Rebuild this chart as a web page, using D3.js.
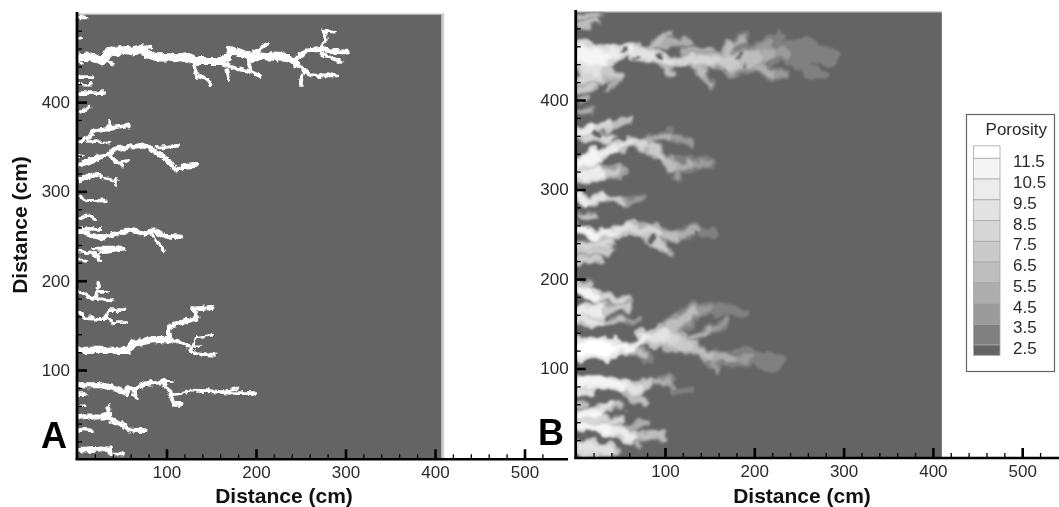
<!DOCTYPE html>
<html><head><meta charset="utf-8">
<script src="https://cdn.jsdelivr.net/npm/d3@7/dist/d3.min.js"></script>
<style>html,body{margin:0;background:#fff}svg{display:block;font-family:"Liberation Sans",Arial,sans-serif;filter:blur(0.45px)}</style>
</head><body>
<script>
// ---- axes
const majorTicks=[100,200,300,400,500];
const minorTicks=d3.range(20,540,20).filter(d=>d%100);
const yMajorTicks=[100,200,300,400];
const yMinorTicks=d3.range(20,500,20).filter(d=>d%100);
const fieldExtent=[410,498.5];
const xTitle="Distance (cm)", yTitle="Distance (cm)";
// ---- colour bar
const porosityLabels=[11.5,10.5,9.5,8.5,7.5,6.5,5.5,4.5,3.5,2.5];
const legendCells=[[11.5,12.1,"#ffffff"],[10.5,11.5,"#f5f5f5"],[9.5,10.5,"#ececec"],[8.5,9.5,"#e2e2e2"],[7.5,8.5,"#d6d6d6"],[6.5,7.5,"#cacaca"],[5.5,6.5,"#bdbdbd"],[4.5,5.5,"#adadad"],[3.5,4.5,"#9a9a9a"],[2.5,3.5,"#808080"],[2,2.5,"#646464"]];
// ---- panel A: white channels, [width cm, [x,y]...]
const channelsA=[
[7,[[1,450],[10,451],[19,449],[28,446],[33,452],[35,457],[44,456],[52,459],[62,457],[75,460],[78,454],[90,450],[104,450],[112,449],[123,450],[138,446],[160,446],[168,449],[172,459],[180,456],[190,452],[198,449],[204,452],[220,451],[238,449],[244,444]]],
[3,[[34,446],[40,442]]],[3,[[75,460],[82,462]]],
[3,[[130,444],[134,429],[147,425],[149,420]]],
[3,[[160,444],[179,437],[192,435],[205,429]]],
[3,[[168,436],[170,425]]],
[3,[[192,446],[194,433]]],
[3,[[198,456],[205,460],[213,465]]],
[3,[[244,444],[252,437],[261,430],[291,430]]],
[3,[[252,431],[250,421]]],
[4,[[244,447],[255,457],[272,459],[286,457],[302,456]]],
[3,[[272,459],[278,470],[276,480],[287,479]]],
[3,[[272,454],[296,445]]],
[3,[[1,496],[10,496]]],[2,[[2,470],[6,471]]],[2,[[2,445],[6,443]]],
[3,[[3,428],[18,428]]],[2,[[3,420],[15,420]]],[3,[[3,410],[30,410]]],
[3,[[3,388],[14,395]]],
[3,[[2,356],[13,360],[17,367],[37,371],[58,374]]],[3,[[36,370],[36,378]]],[2,[[13,356],[36,355]]],
[5,[[2,330],[19,336]]],
[4,[[19,336],[34,341],[43,348],[63,350],[75,352],[90,343],[104,332],[110,324],[120,328],[132,329]]],
[3,[[90,349],[112,351]]],[3,[[37,340],[45,332],[56,334]]],[2,[[45,334],[52,328]]],[2,[[2,340],[6,340]]],
[4,[[3,313],[22,319]]],[2,[[22,319],[30,315],[45,312]]],[2,[[43,315],[43,307]]],
[3,[[3,293],[13,289],[30,290]]],[3,[[4,270],[12,273],[20,269]]],
[4,[[2,255],[26,248],[41,252],[60,257],[75,252],[86,257],[97,250],[116,249]]],
[3,[[84,253],[90,243],[97,234]]],[3,[[6,258],[26,258]]],
[3,[[19,236],[52,236]]],[3,[[2,233],[23,229],[25,223]]],[2,[[25,232],[50,235]]],[2,[[2,223],[11,223]]],
[3,[[2,188],[17,180],[39,178]]],[3,[[21,180],[24,197]]],[2,[[23,188],[34,188]]],
[3,[[2,165],[10,158],[30,157],[37,167],[52,167]]],[2,[[34,158],[41,153],[56,153]]],
[6,[[1,122],[26,122],[58,122],[63,130],[86,134],[104,134]]],
[4,[[101,134],[104,150],[123,155],[134,158],[129,168],[151,170]]],
[3,[[108,134],[123,128],[131,119],[153,117]]],[2,[[129,126],[134,137],[151,139]]],[2,[[132,126],[138,126]]],
[5,[[1,83],[26,83],[45,79],[56,74]]],[4,[[56,79],[63,79],[78,85],[97,87]]],
[3,[[97,87],[104,74],[108,62],[117,62]]],[3,[[63,76],[67,68]]],[3,[[106,72],[127,77],[153,76],[175,74],[199,74]]],[2,[[168,77],[181,80]]],[2,[[97,87],[108,87]]],
[3,[[2,73],[10,73]]],[2,[[2,60],[8,60]]],
[5,[[1,48],[30,48],[37,51]]],[3,[[35,50],[35,61]]],[4,[[34,46],[49,40],[58,33],[76,32]]],[3,[[2,34],[18,32]]],
[4,[[2,10],[36,12],[37,6]]],[2,[[37,6],[52,6]]]
];
// ---- panel B: plumes, points are [x,y,width cm,porosity]
const plumesB=[
[[1,450,24,11.5],[24,447,12,11],[38,452,8,10],[61,456,8,9],[79,450,9,9],[106,443,8,8.5],[128,445,8,8],[158,443,9,7.5],[176,441,16,6.5],[203,448,16,5],[218,452,12,4],[236,452,9,3.5],[262,455,18,3],[283,448,5,3]],
[[165,440,8,7],[173,462,7,5],[188,467,5,4]],[[203,458,8,4],[218,463,8,3.5],[229,473,5,3]],
[[240,448,6,3],[255,437,7,3],[266,430,6,3],[277,428,4,3]],[[203,438,7,5],[218,430,6,4],[236,428,4,3.5]],
[[135,440,7,6.5],[143,428,6,5.5],[152,417,3,4]],[[98,440,6,6.5],[109,430,4,5]],
[[79,456,6,7],[98,470,5,5],[106,472,4,4]],[[91,462,5,6],[128,466,5,4]],[[120,455,5,6],[152,456,4,4]],
[[3,437,10,10],[24,431,7,8],[50,428,3,5]],[[8,425,9,9],[27,426,7,7],[50,426,4,5],[36,413,3,4]],[[3,412,5,7],[20,414,6,6]],
[[3,493,5,7],[27,495,3,4]],[[3,484,5,7],[24,488,3,5]],[[3,400,4,6],[14,402,2,4]],[[3,387,5,6],[18,389,3,4]],
[[1,329,10,11],[24,337,8,11],[42,346,6,9.5],[61,352,5,8],[79,350,7,7],[98,337,6,6],[109,327,8,5],[128,327,9,4],[152,329,3,3]],
[[79,355,7,5],[106,361,6,4],[128,352,3,3]],[[113,326,6,4],[115,311,3,3.5]],
[[1,363,8,10],[20,368,5,9],[38,372,5,7],[59,376,2,4]],[[12,356,7,9],[38,358,6,6]],
[[1,314,10,11],[24,318,8,8],[48,320,8,5]],
[[1,293,5,10],[12,285,4,9],[31,293,5,8],[53,286,4,5],[74,290,5,3.5]],
[[1,256,6,11],[24,249,5,10.5],[42,251,6,9.5],[61,257,8,8],[91,253,8,7],[113,247,7,5.5],[132,255,8,3.8],[152,251,3,3]],
[[79,251,7,7],[98,236,6,6],[106,228,3,4]],[[1,236,7,9],[38,240,5,6]],[[1,221,6,8],[27,223,5,6]],[[1,231,6,8],[38,232,4,5]],[[3,270,5,7],[20,272,2,4]],
[[3,188,7,11],[24,180,6,10],[53,177,5,5]],[[1,196,4,8],[14,195,3,5]],
[[1,163,10,11],[27,165,7,9],[57,169,4,4]],[[1,153,7,10.5],[27,152,5,7],[50,154,5,4.5],[68,154,2,3]],
[[1,122,16,11.5],[38,122,9,11.5],[61,124,6,10],[79,134,6,9],[102,137,16,8],[109,132,16,7.5],[128,124,8,6.5],[150,113,8,5.5],[176,111,6,4],[195,113,14,3],[225,106,3,3]],
[[106,147,12,7],[132,162,10,4.5],[147,167,5,3.5],[188,162,7,3]],[[128,134,5,5],[150,143,5,4],[169,152,4,3]],
[[61,122,7,7],[79,113,7,4.5]],[[150,111,6,4.5],[158,100,4,3.5]],
[[1,85,8,11.5],[31,85,7,11],[53,80,6,10],[72,76,7,8],[83,85,6,6],[106,87,6,4.5],[109,76,4,3.5],[126,74,3,3]],
[[53,76,6,8],[76,61,5,4.5]],[[1,75,6,10],[18,75,4,8]],[[1,60,4,6],[10,60,3,5]],
[[1,48,7,11],[24,50,7,10],[38,59,6,7],[53,57,3,4]],[[1,42,5,9],[50,42,5,6]],
[[3,37,5,11.5],[38,31,6,11],[65,24,9,8],[96,24,3,4]],[[61,35,6,6],[79,39,3,4]],[[65,22,5,6],[72,13,3,4]],
[[1,15,8,10],[38,9,8,8],[44,6,4,5]],[[1,8,5,9],[30,4,4,6]]
];
// holes inside the plumes [x,y,radius cm]
const holesB=[[55,456,2.5],[68,450,2],[94,448,3],[81,350,1.5],[182,448,2.5],[188,439,2.5],[171,433,2],[14,255,1],[132,251,2.5],[85,245,3],[25,361,5],[24,347,5]];

const W=1059,H=507;
const svg=d3.select("body").append("svg").attr("width",W).attr("height",H);
const defs=svg.append("defs");
const rough=(id,freq,scale,blur)=>{const f=defs.append("filter").attr("id",id).attr("x","-5%").attr("y","-5%").attr("width","110%").attr("height","110%");
 f.append("feTurbulence").attr("type","fractalNoise").attr("baseFrequency",freq).attr("numOctaves",2).attr("seed",4).attr("result","n");
 f.append("feDisplacementMap").attr("in","SourceGraphic").attr("in2","n").attr("scale",scale).attr("xChannelSelector","R").attr("yChannelSelector","G").attr("result","d");
 f.append("feGaussianBlur").attr("in","d").attr("stdDeviation",blur);};
rough("roughA",0.18,6,0.4);
rough("roughB",0.08,13,1.0);

const pcol=d3.scaleThreshold().domain(legendCells.slice().reverse().map(c=>c[1]).slice(0,-1)).range(legendCells.slice().reverse().map(c=>c[2]));

function panel(o){
 const x=d3.scaleLinear().domain([0,100]).range([o.x0,o.x0+o.kx*100]);
 const y=d3.scaleLinear().domain([0,100]).range([o.y0,o.y0-o.ky*100]);
 const g=svg.append("g");
 const id="clip"+o.name;
 defs.append("clipPath").attr("id",id).append("rect").attr("x",x(0)).attr("y",y(fieldExtent[1])).attr("width",x(fieldExtent[0])-x(0)).attr("height",y(0)-y(fieldExtent[1]));
 g.append("rect").attr("x",x(0)).attr("y",y(fieldExtent[1])).attr("width",x(fieldExtent[0])-x(0)).attr("height",y(0)-y(fieldExtent[1])).attr("fill","#646464");
 g.append("line").attr("x1",x(0)).attr("x2",x(fieldExtent[0])).attr("y1",y(fieldExtent[1])).attr("y2",y(fieldExtent[1])).attr("stroke","#c4c4c4").attr("stroke-width",1.2);
 if(o.edge) g.append("line").attr("x1",x(fieldExtent[0])-1.2).attr("x2",x(fieldExtent[0])-1.2).attr("y1",y(fieldExtent[1])).attr("y2",y(0)).attr("stroke","#cfcfcf").attr("stroke-width",3);
 const marks=g.append("g").attr("clip-path",`url(#${id})`).append("g").attr("filter",`url(#${o.filter})`);
 o.draw(marks,x,y);
 // axes
 const ax=g.append("g").attr("transform",`translate(0,${y(0)})`);
 const minorX=d3.axisBottom(x).tickValues(minorTicks.filter(d=>d<=o.xMax)).tickSize(-5).tickFormat("");
 const majorX=d3.axisBottom(x).tickValues(majorTicks).tickSize(-10).tickPadding(7).tickFormat(d3.format("d"));
 ax.append("g").attr("class","mn").call(minorX); ax.append("g").attr("class","mj").call(majorX);
 const ay=g.append("g").attr("transform",`translate(${x(0)},0)`);
 const minorY=d3.axisLeft(y).tickValues(yMinorTicks).tickSize(-5).tickFormat("");
 const majorY=d3.axisLeft(y).tickValues(yMajorTicks).tickSize(-10).tickPadding(7).tickFormat(d3.format("d"));
 ay.append("g").attr("class","mn").call(minorY); ay.append("g").attr("class","mj").call(majorY);
 g.selectAll(".domain").remove();
 g.selectAll(".mn .tick line").attr("stroke","#000").attr("stroke-width",1.3);
 g.selectAll(".mj .tick line").attr("stroke","#000").attr("stroke-width",2.6);
 g.selectAll("text").attr("font-size",17).attr("fill","#2a2a2a").attr("font-family","'Liberation Sans',Arial,sans-serif");
 g.append("line").attr("x1",x(0)-1.5).attr("x2",o.xEnd).attr("y1",y(0)).attr("y2",y(0)).attr("stroke","#000").attr("stroke-width",2.6);
 g.append("line").attr("x1",x(0)).attr("x2",x(0)).attr("y1",o.top).attr("y2",y(0)).attr("stroke","#000").attr("stroke-width",2.8);
 g.append("text").attr("x",o.titleX).attr("y",503).attr("text-anchor","middle").attr("font-weight","bold").attr("font-size",21).attr("fill","#111").text(xTitle);
 if(o.yLabel) g.append("text").attr("transform",`translate(${o.x0-50},225) rotate(-90)`).attr("text-anchor","middle").attr("font-weight","bold").attr("font-size",21).attr("fill","#111").text(yTitle);
 g.append("text").attr("x",o.letterX).attr("y",o.letterY).attr("font-weight","bold").attr("font-size",36).attr("fill","#000").text(o.name);
}

panel({name:"A",x0:77,y0:459.3,kx:.895,ky:.893,xMax:540,xEnd:568,top:12,edge:true,yLabel:true,titleX:284,letterX:41,letterY:448,filter:"roughA",
 draw(m,x,y){
  const line=d3.line().x(d=>x(d[0])).y(d=>y(d[1]));
  const wpx=w=>Math.abs(x(w)-x(0));
  m.selectAll("path").data(channelsA).join("path").attr("d",d=>line(d[1])).attr("fill","none").attr("stroke","#fff")
   .attr("stroke-width",d=>wpx(d[0]*1.25+.4)).attr("stroke-linecap","round").attr("stroke-linejoin","round");
 }});

panel({name:"B",x0:575.7,y0:458,kx:.893,ky:.895,xMax:540,xEnd:1059,top:10,edge:false,yLabel:false,titleX:802,letterX:538,letterY:445,filter:"roughB",
 draw(m,x,y){
  const wpx=w=>Math.abs(x(w)-x(0));
  const segs=plumesB.flatMap(pl=>d3.pairs(pl).map(([a,b])=>({a,b,w:(a[2]+b[2])/2,p:(a[3]+b[3])/2})));
  const sorted=segs.slice().sort((s,t)=>s.p-t.p);
  const layer=(cls,wk,dp)=>m.selectAll("path."+cls).data(sorted).join("path").attr("class",cls)
   .attr("d",s=>`M${x(s.a[0])},${y(s.a[1])}L${x(s.b[0])},${y(s.b[1])}`)
   .attr("fill","none").attr("stroke",s=>pcol(Math.max(3,s.p-dp))).attr("stroke-width",s=>wpx(s.w*wk+1.5)).attr("stroke-linecap","round");
  layer("h",1.9,3); layer("m",1.35,1.4); layer("c",.8,0);
  m.selectAll("circle").data(holesB).join("circle").attr("cx",d=>x(d[0])).attr("cy",d=>y(d[1])).attr("r",d=>wpx(d[2])).attr("fill","#646464");
 }});

// legend
const lg=svg.append("g");
lg.append("rect").attr("x",966.5).attr("y",114.5).attr("width",88).attr("height",257).attr("fill","#fff").attr("stroke","#666").attr("stroke-width",1.2);
lg.append("text").attr("x",1047).attr("y",135).attr("text-anchor","end").attr("font-size",17).attr("fill","#2a2a2a").text("Porosity");
const vy=d3.scaleLinear().domain([2.5,11.5]).range([345,158.3]);
lg.selectAll("rect.cell").data(legendCells).join("rect").attr("class","cell").attr("x",973.5).attr("width",26.5)
 .attr("y",d=>vy(d[1])).attr("height",d=>vy(d[0])-vy(d[1])).attr("fill",d=>d[2]).attr("stroke","#a8a8a8").attr("stroke-width",.8);
lg.selectAll("text.lab").data(porosityLabels).join("text").attr("class","lab").attr("x",1013).attr("y",d=>vy(d)+9)
 .attr("font-size",17).attr("fill","#2a2a2a").text(d=>d3.format(".1f")(d));
</script>
</body></html>
